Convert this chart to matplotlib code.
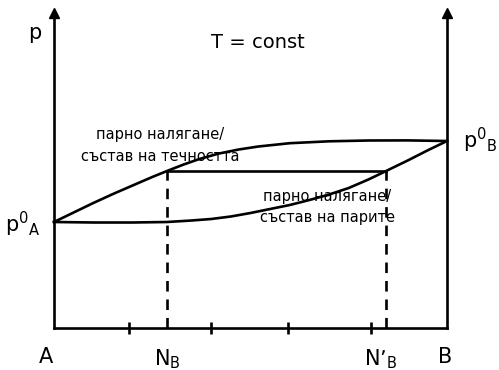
import matplotlib
matplotlib.use("Agg")
import matplotlib.pyplot as plt

# composition axis: A = 0, B = 1 (mole fraction of B)
liquid_x = [0.0, 0.05, 0.1, 0.15, 0.2, 0.25, 0.2875, 0.33, 0.37, 0.42, 0.47,
            0.52, 0.6, 0.7, 0.8, 0.9, 1.0]
liquid_p = [1.06, 1.155, 1.25, 1.34, 1.425, 1.51, 1.57, 1.635, 1.69, 1.745, 1.785,
            1.815, 1.848, 1.867, 1.875, 1.876, 1.87]

vapour_x = [0.0, 0.1, 0.2, 0.2875, 0.35, 0.4, 0.45, 0.5, 0.55, 0.6, 0.65,
            0.7, 0.75, 0.8, 0.845, 0.9, 0.95, 1.0]
vapour_p = [1.06, 1.055, 1.055, 1.06, 1.075, 1.09, 1.115, 1.15, 1.19, 1.23, 1.28,
            1.335, 1.40, 1.485, 1.57, 1.675, 1.775, 1.87]

p0_A = 1.06
p0_B = 1.87
tie_p = 1.57
N_B = 0.2875
N_B_vap = 0.845
tick_pos = [0.19, 0.40, 0.595, 0.807]
p_top = 3.15

W, H = 499, 370
fig = plt.figure(figsize=(W / 100, H / 100), dpi=100)
ax = fig.add_axes([54 / W, (H - 328) / H, 393 / W, (328 - 13) / H])
ax.set_xlim(0, 1)
ax.set_ylim(0, p_top)

lw = 1.9
ax.spines["top"].set_visible(False)
for s in ["left", "right", "bottom"]:
    ax.spines[s].set_linewidth(lw)

# arrow heads on both pressure axes
ax.plot([0, 1], [p_top, p_top], "^k", ms=7, clip_on=False)

ax.set_xticks(tick_pos)
ax.set_xticklabels([])
ax.set_yticks([])
ax.tick_params(axis="x", direction="inout", length=9, width=lw)

# phase boundary curves
ax.plot(liquid_x, liquid_p, color="black", lw=lw, clip_on=False, solid_joinstyle="round")
ax.plot(vapour_x, vapour_p, color="black", lw=lw, clip_on=False, solid_joinstyle="round")

# tie line and the compositions it connects
ax.plot([N_B, N_B_vap], [tie_p, tie_p], color="black", lw=lw)
ax.plot([N_B, N_B], [0, tie_p], color="black", lw=lw, ls=(0, (4, 3)))
ax.plot([N_B_vap, N_B_vap], [0, tie_p], color="black", lw=lw, ls=(0, (4, 3)))

fs = 15
ax.text(0.52, 2.86, "T = const", ha="center", va="center", fontsize=14)
ax.text(-0.05, 2.95, "p", ha="center", va="center", fontsize=fs)
ax.text(-0.035, p0_A - 0.02, r"$\mathregular{p^0{}_A}$", ha="right", va="center", fontsize=fs)
ax.text(1.04, p0_B + 0.01, r"$\mathregular{p^0{}_B}$", ha="left", va="center", fontsize=fs)

ax.text(0.27, 1.94, "парно налягане/", ha="center", va="center", fontsize=10.5)
ax.text(0.27, 1.72, "състав на течността", ha="center", va="center", fontsize=10.5)
ax.text(0.695, 1.32, "парно налягане/", ha="center", va="center", fontsize=10.5)
ax.text(0.695, 1.11, "състав на парите", ha="center", va="center", fontsize=10.5)

ax.text(-0.02, -0.29, "A", ha="center", va="center", fontsize=fs)
ax.text(N_B, -0.31, r"N$_\mathregular{B}$", ha="center", va="center", fontsize=fs)
ax.text(N_B_vap - 0.015, -0.31, r"N’$_\mathregular{B}$", ha="center", va="center", fontsize=fs)
ax.text(0.995, -0.29, "B", ha="center", va="center", fontsize=fs)

fig.savefig("out.png", dpi=100)
